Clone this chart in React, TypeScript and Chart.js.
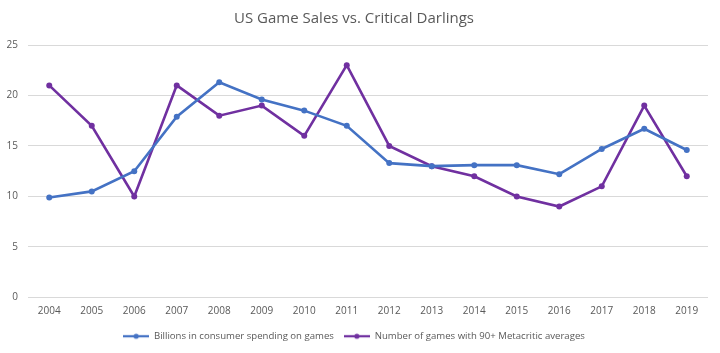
import React, { useEffect, useRef } from "react";
import { Chart, registerables } from "chart.js";
Chart.register(...registerables);

const years = ["2004","2005","2006","2007","2008","2009","2010","2011","2012","2013","2014","2015","2016","2017","2018","2019"];
const spending = [9.9, 10.5, 12.5, 17.9, 21.3, 19.6, 18.5, 17.0, 13.3, 13.0, 13.1, 13.1, 12.2, 14.7, 16.7, 14.6];
const metacritic = [21, 17, 10, 21, 18, 19, 16, 23, 15, 13, 12, 10, 9, 11, 19, 12];
const seriesNames = ["Billions in consumer spending on games", "Number of games with 90+ Metacritic averages"];
const colors = ["#4472C4", "#7030A0"];
const title = "US Game Sales vs. Critical Darlings";

function legendMarker(color: string) {
  const c = document.createElement("canvas");
  c.width = 26; c.height = 8;
  const ctx = c.getContext("2d")!;
  ctx.strokeStyle = color; ctx.lineWidth = 2.25;
  ctx.beginPath(); ctx.moveTo(0, 4); ctx.lineTo(26, 4); ctx.stroke();
  ctx.fillStyle = color;
  ctx.beginPath(); ctx.arc(13, 4, 2.6, 0, Math.PI * 2); ctx.fill();
  return c;
}

export default function App() {
  const ref = useRef<HTMLCanvasElement>(null);
  useEffect(() => {
    document.body.style.margin = "0";
    const font = "'Open Sans', sans-serif";
    const chart = new Chart(ref.current!, {
      type: "line",
      data: {
        labels: years,
        datasets: [spending, metacritic].map((d, i) => ({
          label: seriesNames[i],
          data: d,
          borderColor: colors[i],
          backgroundColor: colors[i],
          borderWidth: 2.6,
          pointRadius: 3,
          pointBorderWidth: 0,
          pointStyle: "circle",
          tension: 0,
        })),
      },
      options: {
        animation: false,
        responsive: true,
        maintainAspectRatio: false,
        layout: { padding: { left: 0, right: 12, top: 10, bottom: 2 } },
        plugins: {
          title: {
            display: true,
            text: title,
            color: "#595959",
            font: { family: font, size: 15, weight: "normal" },
            padding: { top: 0, bottom: 17 },
          },
          legend: {
            position: "bottom",
            labels: {
              color: "#595959",
              font: { family: font, size: 9.6 },
              usePointStyle: true,
              pointStyleWidth: 26,
              padding: 10,
              generateLabels: (ch: any) =>
                ch.data.datasets.map((ds: any, i: number) => ({
                  text: ds.label,
                  fillStyle: colors[i],
                  strokeStyle: colors[i],
                  pointStyle: legendMarker(colors[i]),
                  datasetIndex: i,
                  hidden: false,
                  lineWidth: 0,
                  fontColor: "#595959",
                })),
            },
          },
          tooltip: { enabled: false },
        },
        scales: {
          x: {
            offset: true,
            grid: { display: false, drawTicks: false },
            border: { display: false },
            ticks: { color: "#595959", font: { family: font, size: 10 }, padding: 8 },
            afterFit: (s: any) => { s.height = 24; },
          },
          y: {
            min: 0,
            max: 25,
            ticks: { stepSize: 5, color: "#595959", font: { family: font, size: 10 }, padding: 10 },
            grid: { color: "#d9d9d9", drawTicks: false },
            border: { display: false },
            afterFit: (s: any) => { s.width = 28; },
          },
        },
      },
    });
    return () => chart.destroy();
  }, []);
  return (
    <div style={{ position: "fixed", left: 0, top: 0, width: 720, height: 353, background: "#fff" }}>
      <canvas ref={ref} />
    </div>
  );
}
